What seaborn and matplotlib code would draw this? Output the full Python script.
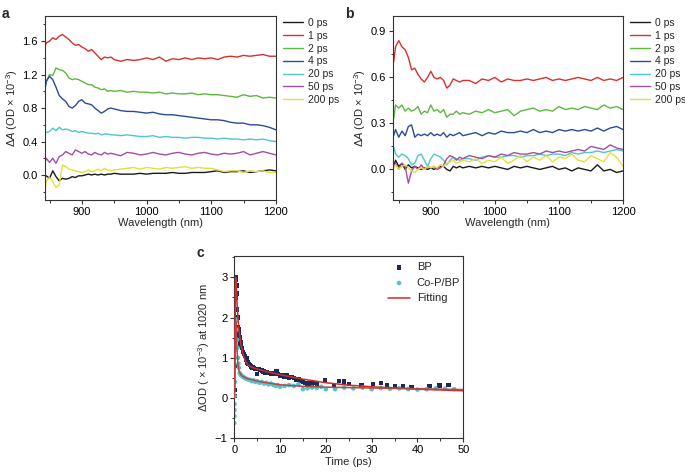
import matplotlib
matplotlib.use("Agg")
import matplotlib.pyplot as plt
import seaborn as sns
import pandas as pd
from matplotlib.ticker import MultipleLocator

# ---- data ----
delays = ["0 ps", "1 ps", "2 ps", "4 ps", "20 ps", "50 ps", "200 ps"]
colors = ["#1a1a1a", "#d9302c", "#5cb840", "#2c4a9a", "#4ec6cf", "#a64ca6", "#e4e03a"]

wavelength = [842, 845, 850, 855, 860, 865, 870, 875, 880, 885, 890, 895, 900, 905, 910, 915,
              920, 925, 930, 935, 940, 945, 950, 960, 970, 980, 990, 1000, 1010, 1020, 1030,
              1040, 1050, 1060, 1070, 1080, 1090, 1100, 1110, 1120, 1130, 1140, 1150, 1160,
              1170, 1180, 1190, 1200]

a_0ps = [-0.03, -0.01, -0.04, 0.05, -0.02, -0.07, -0.04, -0.05, -0.04, -0.02, -0.03, -0.01, -0.01, 0.00,
         0.01, 0.00, 0.01, 0.00, 0.01, 0.00, 0.01, 0.01, 0.02, 0.01, 0.01, 0.01, 0.02, 0.01, 0.02, 0.02,
         0.02, 0.03, 0.02, 0.02, 0.03, 0.03, 0.03, 0.04, 0.05, 0.03, 0.04, 0.04, 0.05, 0.03, 0.04, 0.05,
         0.06, 0.05]
a_1ps = [1.52, 1.58, 1.60, 1.64, 1.62, 1.66, 1.68, 1.65, 1.62, 1.58, 1.55, 1.56, 1.53, 1.51, 1.48, 1.50,
         1.46, 1.42, 1.38, 1.41, 1.40, 1.41, 1.38, 1.36, 1.38, 1.37, 1.38, 1.40, 1.38, 1.41, 1.36, 1.39,
         1.38, 1.40, 1.38, 1.40, 1.39, 1.40, 1.38, 1.41, 1.42, 1.41, 1.43, 1.42, 1.43, 1.44, 1.42, 1.42]
a_2ps = [1.00, 1.12, 1.20, 1.19, 1.28, 1.26, 1.25, 1.22, 1.16, 1.14, 1.15, 1.14, 1.12, 1.10, 1.08, 1.08,
         1.05, 1.04, 1.02, 1.03, 1.00, 1.01, 1.00, 1.01, 0.99, 1.00, 0.99, 0.99, 0.98, 0.99, 0.97, 0.98,
         0.97, 0.97, 0.98, 0.96, 0.97, 0.96, 0.96, 0.95, 0.94, 0.93, 0.96, 0.94, 0.95, 0.92, 0.93, 0.92]
a_4ps = [0.98, 1.12, 1.18, 1.14, 1.05, 0.95, 0.91, 0.88, 0.82, 0.80, 0.83, 0.88, 0.90, 0.86, 0.85, 0.84,
         0.80, 0.77, 0.74, 0.76, 0.79, 0.80, 0.79, 0.77, 0.76, 0.76, 0.75, 0.74, 0.75, 0.73, 0.72, 0.72,
         0.71, 0.70, 0.69, 0.68, 0.67, 0.66, 0.66, 0.65, 0.63, 0.62, 0.62, 0.60, 0.60, 0.59, 0.57, 0.54]
a_20ps = [0.48, 0.51, 0.52, 0.56, 0.53, 0.57, 0.54, 0.55, 0.54, 0.52, 0.53, 0.51, 0.52, 0.51, 0.50, 0.50,
          0.49, 0.50, 0.48, 0.49, 0.49, 0.48, 0.48, 0.47, 0.48, 0.47, 0.46, 0.46, 0.47, 0.45, 0.46, 0.45,
          0.45, 0.44, 0.45, 0.45, 0.44, 0.44, 0.43, 0.44, 0.43, 0.43, 0.42, 0.43, 0.42, 0.43, 0.41, 0.40]
a_50ps = [0.12, 0.20, 0.15, 0.20, 0.14, 0.22, 0.24, 0.28, 0.26, 0.24, 0.30, 0.28, 0.26, 0.28, 0.25, 0.24,
          0.27, 0.25, 0.24, 0.27, 0.25, 0.26, 0.25, 0.23, 0.27, 0.26, 0.24, 0.25, 0.27, 0.25, 0.24, 0.26,
          0.27, 0.25, 0.24, 0.26, 0.27, 0.25, 0.24, 0.26, 0.25, 0.26, 0.28, 0.24, 0.26, 0.28, 0.26, 0.24]
a_200ps = [-0.25, -0.07, -0.03, -0.08, -0.15, -0.12, 0.12, 0.10, 0.07, 0.06, 0.05, 0.04, 0.03, 0.04, 0.06,
           0.04, 0.05, 0.07, 0.05, 0.08, 0.06, 0.05, 0.06, 0.07, 0.08, 0.09, 0.07, 0.09, 0.08, 0.07, 0.09,
           0.08, 0.09, 0.10, 0.08, 0.09, 0.08, 0.08, 0.06, 0.04, 0.05, 0.05, 0.03, 0.05, 0.04, 0.05, 0.03,
           0.03]

b_0ps = [0.02, 0.06, 0.02, 0.04, 0.00, 0.03, 0.01, 0.02, 0.01, 0.00, 0.01, 0.00, 0.01, 0.00, 0.01, 0.02,
         0.02, 0.00, -0.01, 0.02, 0.01, 0.02, 0.01, 0.02, 0.01, 0.02, 0.01, 0.02, 0.01, 0.00, 0.02, 0.01,
         0.02, 0.01, 0.00, 0.01, 0.02, 0.00, 0.01, -0.01, 0.01, 0.00, -0.01, 0.03, -0.01, 0.00, -0.02, -0.01]
b_1ps = [0.70, 0.80, 0.84, 0.80, 0.78, 0.73, 0.65, 0.66, 0.62, 0.59, 0.57, 0.60, 0.64, 0.60, 0.59, 0.60,
         0.58, 0.53, 0.55, 0.59, 0.58, 0.57, 0.58, 0.58, 0.56, 0.59, 0.58, 0.60, 0.57, 0.59, 0.58, 0.58,
         0.59, 0.58, 0.59, 0.60, 0.58, 0.59, 0.58, 0.59, 0.60, 0.59, 0.58, 0.60, 0.58, 0.59, 0.58, 0.60]
b_2ps = [0.33, 0.42, 0.40, 0.42, 0.38, 0.40, 0.38, 0.39, 0.41, 0.36, 0.38, 0.37, 0.42, 0.38, 0.39, 0.37,
         0.39, 0.34, 0.36, 0.36, 0.38, 0.36, 0.37, 0.36, 0.38, 0.37, 0.39, 0.37, 0.38, 0.39, 0.35, 0.38,
         0.39, 0.40, 0.38, 0.39, 0.38, 0.41, 0.39, 0.40, 0.39, 0.41, 0.40, 0.39, 0.42, 0.40, 0.41, 0.39]
b_4ps = [0.22, 0.26, 0.21, 0.25, 0.22, 0.28, 0.29, 0.21, 0.23, 0.22, 0.23, 0.22, 0.24, 0.22, 0.23, 0.22,
         0.24, 0.21, 0.23, 0.22, 0.23, 0.24, 0.22, 0.23, 0.24, 0.22, 0.24, 0.23, 0.25, 0.24, 0.24, 0.25,
         0.24, 0.26, 0.24, 0.25, 0.24, 0.26, 0.25, 0.26, 0.25, 0.26, 0.25, 0.27, 0.25, 0.27, 0.28, 0.26]
b_20ps = [0.15, 0.10, 0.08, 0.10, 0.09, 0.07, 0.03, 0.04, 0.09, 0.10, 0.06, 0.02, 0.07, 0.10, 0.09, 0.08,
          0.06, 0.03, 0.06, 0.08, 0.07, 0.06, 0.07, 0.07, 0.06, 0.08, 0.09, 0.08, 0.08, 0.09, 0.09, 0.08,
          0.09, 0.09, 0.10, 0.09, 0.10, 0.10, 0.09, 0.11, 0.10, 0.11, 0.11, 0.12, 0.11, 0.12, 0.13, 0.12]
b_50ps = [0.02, 0.04, 0.00, 0.04, 0.02, -0.09, -0.01, 0.02, 0.00, 0.03, 0.00, 0.02, 0.01, 0.02, 0.00, 0.01,
          0.03, 0.07, 0.09, 0.08, 0.06, 0.08, 0.07, 0.09, 0.08, 0.07, 0.09, 0.08, 0.10, 0.09, 0.11, 0.10,
          0.10, 0.11, 0.10, 0.12, 0.11, 0.12, 0.11, 0.12, 0.13, 0.12, 0.15, 0.14, 0.13, 0.16, 0.14, 0.13]
b_200ps = [0.01, 0.03, 0.00, 0.02, 0.03, 0.01, -0.01, -0.02, 0.00, 0.01, 0.00, 0.02, 0.01, 0.02, 0.01, 0.03,
           0.02, 0.04, 0.05, 0.06, 0.04, 0.05, 0.06, 0.05, 0.07, 0.04, 0.06, 0.05, 0.08, 0.04, 0.06, 0.09,
           0.05, 0.08, 0.06, 0.09, 0.05, 0.08, 0.07, 0.10, 0.06, 0.05, 0.09, 0.07, 0.05, 0.11, 0.08, 0.02]

# panel c: kinetics at 1020 nm
bp_time = [0.05, 0.1, 0.15, 0.2, 0.25, 0.3, 0.35, 0.4, 0.45, 0.5, 0.6, 0.7, 0.8, 0.9, 1.0, 1.1, 1.2, 1.3,
           1.4, 1.5, 1.7, 1.9, 2.1, 2.3, 2.5, 2.7, 2.9, 3.1, 3.4, 3.7, 4.0, 4.3, 4.6, 5.0, 5.3, 5.6, 6.0,
           6.4, 6.8, 7.2, 7.6, 8.0, 8.4, 8.8, 9.2, 9.6, 10.0, 10.5, 11.0, 11.5, 12.0, 12.5, 13.0, 13.5,
           14.0, 14.5, 15.0, 15.5, 16.0, 16.5, 17.0, 17.5, 18.0, 19.8, 21.8, 22.9, 24.0, 25.1, 27.8,
           30.3, 32.0, 33.4, 35.1, 36.9, 38.7, 42.6, 44.8, 46.8]
bp_signal = [0.05, 0.2, 0.8, 1.5, 2.5, 2.8, 3.0, 2.95, 2.8, 2.6, 2.2, 2.0, 1.75, 1.6, 1.7, 1.5, 1.45, 1.35,
             1.4, 1.3, 1.25, 1.15, 1.1, 1.05, 0.95, 1.0, 0.88, 0.85, 0.82, 0.78, 0.76, 0.74, 0.72, 0.60,
             0.72, 0.70, 0.68, 0.66, 0.62, 0.64, 0.62, 0.60, 0.62, 0.60, 0.66, 0.60, 0.56, 0.57, 0.52,
             0.56, 0.50, 0.52, 0.50, 0.46, 0.48, 0.42, 0.40, 0.38, 0.36, 0.38, 0.35, 0.37, 0.34, 0.45,
             0.31, 0.43, 0.41, 0.35, 0.31, 0.35, 0.38, 0.33, 0.30, 0.30, 0.28, 0.30, 0.31, 0.32]
cop_time = [0.0, 0.02, 0.04, 0.06, 0.08, 0.12, 0.2, 0.3, 0.4, 0.5, 0.6, 0.7, 0.8, 0.9, 1.0, 1.2, 1.4, 1.7,
            2.0, 2.3, 2.6, 3.0, 3.4, 3.8, 4.2, 4.6, 5.0, 5.5, 6.0, 6.5, 7.0, 7.5, 8.0, 8.5, 9.0, 9.5,
            10, 11, 12, 13, 14, 15, 16, 17, 18, 19, 20, 22, 24, 26, 28, 30, 32, 34, 36, 38, 40, 42, 44,
            46, 48]
cop_signal = [-0.62, -0.45, -0.3, -0.15, 0.05, 0.4, 1.2, 1.9, 1.95, 1.7, 1.45, 1.25, 1.0, 0.85, 0.75, 0.62,
              0.58, 0.55, 0.52, 0.50, 0.48, 0.46, 0.45, 0.42, 0.44, 0.40, 0.42, 0.38, 0.40, 0.36, 0.38,
              0.34, 0.36, 0.33, 0.30, 0.32, 0.28, 0.30, 0.32, 0.30, 0.34, 0.22, 0.24, 0.26, 0.25, 0.28,
              0.22, 0.22, 0.26, 0.24, 0.26, 0.22, 0.25, 0.23, 0.24, 0.22, 0.21, 0.22, 0.24, 0.23, 0.22]
fit_time = [0, 0.1, 0.2, 0.3, 0.4, 0.6, 0.8, 1.0, 1.5, 2, 2.5, 3, 4, 5, 7, 10, 15, 20, 25, 30, 35, 40, 45, 50]
fit_bp = [0.0, 0.3, 2.0, 3.0, 2.9, 2.4, 2.0, 1.7, 1.3, 1.05, 0.9, 0.82, 0.76, 0.72, 0.66, 0.58, 0.47, 0.38,
          0.32, 0.28, 0.25, 0.22, 0.20, 0.18]
fit_cop = [0.0, 0.2, 1.2, 1.9, 1.8, 1.2, 0.85, 0.68, 0.57, 0.53, 0.50, 0.48, 0.45, 0.42, 0.38, 0.33, 0.29,
           0.27, 0.26, 0.25, 0.24, 0.23, 0.22, 0.21]

# ---- style ----
sns.set_style("ticks")
plt.rcParams["font.family"] = ["Liberation Sans", "DejaVu Sans"]
plt.rcParams["mathtext.fontset"] = "custom"
plt.rcParams["mathtext.rm"] = "Liberation Sans"
plt.rcParams["mathtext.it"] = "Liberation Sans:italic"
plt.rcParams["axes.edgecolor"] = "#333333"
plt.rcParams["axes.linewidth"] = 0.8
plt.rcParams["xtick.color"] = "#333333"
plt.rcParams["ytick.color"] = "#333333"
plt.rcParams["xtick.labelcolor"] = "black"
plt.rcParams["ytick.labelcolor"] = "black"

FS = 8

fig = plt.figure(figsize=(6.85, 4.73), dpi=100)
ax_a = fig.add_axes([0.0657, 0.577, 0.337, 0.389])
ax_b = fig.add_axes([0.5737, 0.577, 0.3358, 0.389])
ax_c = fig.add_axes([0.342, 0.0734, 0.3343, 0.3854])


def style_axis(ax):
    ax.tick_params(which="major", length=3, width=0.8, labelsize=FS, pad=2)
    ax.tick_params(which="minor", length=1.8, width=0.7)
    for s in ax.spines.values():
        s.set_visible(True)


def spectra_panel(ax, series, xlim, ylim, ymajor):
    rows = []
    for name, vals in zip(delays, series):
        for w, v in zip(wavelength, vals):
            rows.append({"wl": w, "dA": v, "delay": name})
    df = pd.DataFrame(rows)
    sns.lineplot(data=df, x="wl", y="dA", hue="delay", hue_order=delays,
                 palette=colors, sort=False, estimator=None, linewidth=1.0, ax=ax)
    ax.set_xlim(*xlim)
    ax.set_ylim(*ylim)
    ax.xaxis.set_major_locator(MultipleLocator(100))
    ax.xaxis.set_minor_locator(MultipleLocator(50))
    ax.yaxis.set_major_locator(MultipleLocator(ymajor))
    ax.yaxis.set_minor_locator(MultipleLocator(ymajor / 2))
    ax.set_xlabel("Wavelength (nm)", fontsize=FS, labelpad=1)
    ax.set_ylabel(r"$\Delta A$ (OD $\times$ 10$^{-3}$)", fontsize=FS, labelpad=2)
    style_axis(ax)
    handles, labels = ax.get_legend_handles_labels()
    ax.legend(handles, labels, loc="upper left", bbox_to_anchor=(1.03, 0.99), frameon=False,
              fontsize=7.5, handlelength=1.9, handletextpad=0.5, labelspacing=0.27,
              borderpad=0, borderaxespad=0)


spectra_panel(ax_a, [a_0ps, a_1ps, a_2ps, a_4ps, a_20ps, a_50ps, a_200ps],
              (843, 1200), (-0.3, 1.9), 0.4)
ax_a.yaxis.set_major_formatter(matplotlib.ticker.FormatStrFormatter("%.1f"))
spectra_panel(ax_b, [b_0ps, b_1ps, b_2ps, b_4ps, b_20ps, b_50ps, b_200ps],
              (841, 1200), (-0.2, 1.0), 0.3)
ax_b.yaxis.set_major_formatter(matplotlib.ticker.FormatStrFormatter("%.1f"))

# panel c
sns.scatterplot(x=bp_time, y=bp_signal, marker="s", s=10, color="#1c2a5a", edgecolor="none",
                label="BP", ax=ax_c, zorder=2)
sns.scatterplot(x=cop_time, y=cop_signal, marker="o", s=11, color="#56c3c9", edgecolor="none",
                label="Co-P/BP", ax=ax_c, zorder=2)
sns.lineplot(x=fit_time, y=fit_bp, color="#d42a2a", linewidth=1.1, label="Fitting", ax=ax_c, zorder=3)
sns.lineplot(x=fit_time, y=fit_cop, color="#b24a42", linewidth=1.1, ax=ax_c, zorder=3)
ax_c.set_xlim(0, 50)
ax_c.set_ylim(-1, 3.53)
ax_c.xaxis.set_major_locator(MultipleLocator(10))
ax_c.xaxis.set_minor_locator(MultipleLocator(5))
ax_c.yaxis.set_major_locator(MultipleLocator(1))
ax_c.yaxis.set_minor_locator(MultipleLocator(0.5))
ax_c.set_xlabel("Time (ps)", fontsize=FS, labelpad=1)
ax_c.set_ylabel(r"$\Delta$OD ( $\times$ 10$^{-3}$) at 1020 nm", fontsize=FS, labelpad=2)
style_axis(ax_c)
h, l = ax_c.get_legend_handles_labels()
ax_c.legend(h[:3], l[:3], loc="upper left", bbox_to_anchor=(0.671, 0.965), frameon=False,
            fontsize=8, handlelength=2.0, handletextpad=0.6, labelspacing=0.5,
            borderpad=0, borderaxespad=0, markerscale=1.0)

fig.text(0.003, 0.985, "a", fontsize=10, fontweight="bold", va="top")
fig.text(0.503, 0.985, "b", fontsize=10, fontweight="bold", va="top")
fig.text(0.287, 0.48, "c", fontsize=10, fontweight="bold", va="top")

fig.savefig("out.png", dpi=100)
